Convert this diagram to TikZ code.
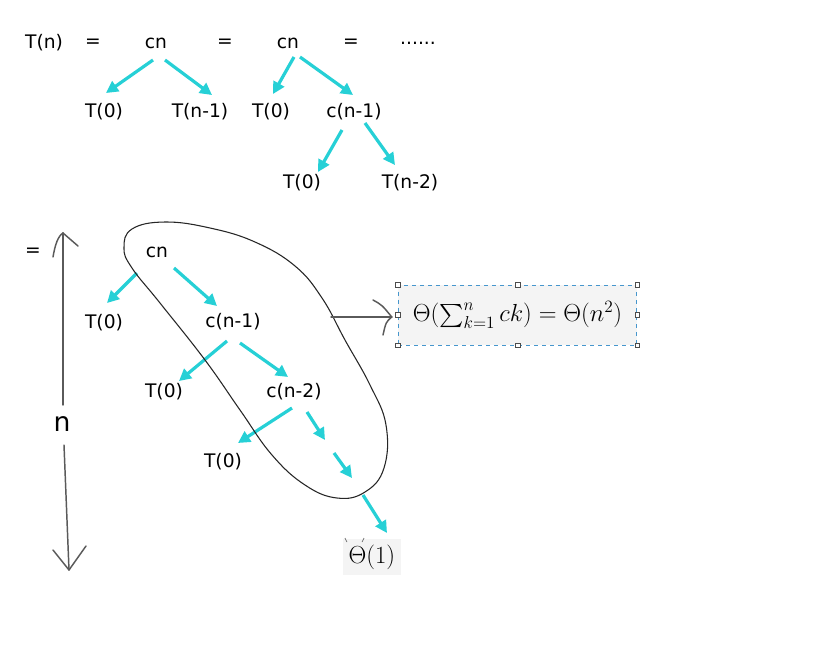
\documentclass[tikz,border=0pt]{standalone}
\usepackage{fix-cm}
\usepackage{amsmath}
\usepackage[no-math]{fontspec}
\usetikzlibrary{arrows.meta,calc}
\newfontfamily\lbfont{DejaVu Sans}
\definecolor{arrowcyan}{RGB}{38,208,214}
\definecolor{boxgray}{RGB}{244,244,244}
\definecolor{dashblue}{RGB}{70,150,205}
\definecolor{handdraw}{RGB}{90,90,90}
\begin{document}
\begin{tikzpicture}[x=0.75pt,y=-0.75pt,
  lbl/.style={font={\lbfont\fontsize{14}{16}\selectfont}, inner sep=0pt, text=black},
  carrow/.style={draw=arrowcyan, line width=2.4pt, -{Triangle[length=9pt,width=9pt]}},
  handline/.style={draw=handdraw, line width=1.1pt, line cap=round},
  loopline/.style={draw=black!85, line width=0.8pt},
  handle/.style={draw=black!70, fill=white, line width=0.5pt, minimum size=3.5pt, inner sep=0pt},
  mathbox/.style={fill=boxgray, inner sep=0pt, font=\fontsize{18.5}{22}\selectfont}]
\fill[white] (0,0) rectangle (819,669);
\useasboundingbox (0,0) rectangle (819,669);

% ---------- top row ----------
\node[lbl] (tn) at (44,43) {T(n)};
\node[lbl] (eq1) at (93,43) {=};
\node[lbl] (cn1) at (156,43) {cn};
\node[lbl] (eq2) at (225,43) {=};
\node[lbl] (cn2) at (288,43) {cn};
\node[lbl] (eq3) at (351,43) {=};
\node[lbl] (dots) at (418,43) {......};

\node[lbl] (t0a) at (104,112) {T(0)};
\node[lbl] (tn1a) at (200,112) {T(n-1)};
\node[lbl] (t0b) at (271,112) {T(0)};
\node[lbl] (cn1b) at (354,112) {c(n-1)};
\node[lbl] (t0c) at (302,183) {T(0)};
\node[lbl] (tn2) at (410,183) {T(n-2)};

\draw[carrow] ($(cn1)+(-3,17)$) -- ($(t0a)+(2,-19)$);
\draw[carrow] ($(cn1)+(9,17)$) -- ($(tn1a)+(12,-17)$);
\draw[carrow] ($(cn2)+(6,14)$) -- ($(t0b)+(2,-18)$);
\draw[carrow] ($(cn2)+(12,14)$) -- ($(cn1b)+(-1,-17)$);
\draw[carrow] ($(cn1b)+(-12,18)$) -- ($(t0c)+(16,-11)$);
\draw[carrow] ($(cn1b)+(11,11)$) -- ($(tn2)+(-15,-18)$);

% ---------- lower part ----------
\node[lbl] (eq4) at (33,252) {=};
\node[lbl] (cnL) at (157,252) {cn};
\node[lbl] (t0d) at (104,323) {T(0)};
\node[lbl] (cmA) at (233,322) {c(n-1)};
\node[lbl] (t0e) at (164,392) {T(0)};
\node[lbl] (cmB) at (294,392) {c(n-2)};
\node[lbl] (t0f) at (223,462) {T(0)};
\node[mathbox, minimum width=44pt, minimum height=27pt] (th1) at (372,557) {$\Theta(1)$};
\node[font={\lbfont\fontsize{20}{22}\selectfont}, inner sep=0pt] (nlab) at (62,424) {n};

\coordinate (d1) at (325,440);
\coordinate (d2s) at (334,453);
\coordinate (d2e) at (352,478);

\draw[carrow] ($(cnL)+(-20,21)$) -- ($(t0d)+(3,-20)$);
\draw[carrow] ($(cnL)+(17,16)$) -- ($(cmA)+(-16,-16)$);
\draw[carrow] ($(cmA)+(-6,19)$) -- ($(t0e)+(15,-11)$);
\draw[carrow] ($(cmA)+(7,21)$) -- ($(cmB)+(-6,-15)$);
\draw[carrow] ($(cmB)+(-2,16)$) -- ($(t0f)+(15,-19)$);
\draw[carrow] ($(cmB)+(13,20)$) -- (d1);
\draw[carrow] (d2s) -- (d2e);
\draw[carrow] ($(th1)+(-9,-62)$) -- ($(th1)+(15,-24)$);

% small marks above Theta(1)
\draw[draw=black!60, line width=0.5pt] (345,538) -- (347,542);
\draw[draw=black!60, line width=0.5pt] (364,538) -- (362,542);

% vertical double arrow with n
\coordinate (vtop) at (63,233);
\coordinate (vbot) at (69,570);
\draw[handline] (vtop) -- ($(nlab)+(1,-19)$);
\draw[handline] ($(nlab)+(2,21)$) -- (vbot);
\draw[handline] (53,257) .. controls (55,245) and (58,236) .. (vtop);
\draw[handline] (vtop) -- (78,246);
\draw[handline] (53,550) -- (vbot);
\draw[handline] (86,546) -- (vbot);

% hand-drawn loop
\draw[loopline] plot[smooth cycle, tension=0.7] coordinates {
 (132,229) (165,222) (210,228) (255,242) (295,266) (322,298) (345,340)
 (370,385) (386,425) (384,468) (365,492) (337,498) (305,485) (272,455)
 (240,410) (205,360) (160,303) (132,268) (124,248)};

% formula box
\node[mathbox, draw=dashblue, dashed, line width=0.6pt, minimum width=179pt, minimum height=45pt] (formula) at (517.5,315)
  {$\Theta(\sum_{k=1}^{n} ck) = \Theta(n^2)$};
\foreach \a in {north west,north,north east,west,east,south west,south,south east}
  \node[handle] at (formula.\a) {};

\coordinate (loopout) at (331,317);
\coordinate (tip) at ($(formula.west)+(-6,2)$);
\draw[handline] (loopout) -- (tip);
\draw[handline] (373,300) .. controls (382,305) .. (tip);
\draw[handline] (tip) .. controls (386,322) .. (383,335);
\end{tikzpicture}
\end{document}
